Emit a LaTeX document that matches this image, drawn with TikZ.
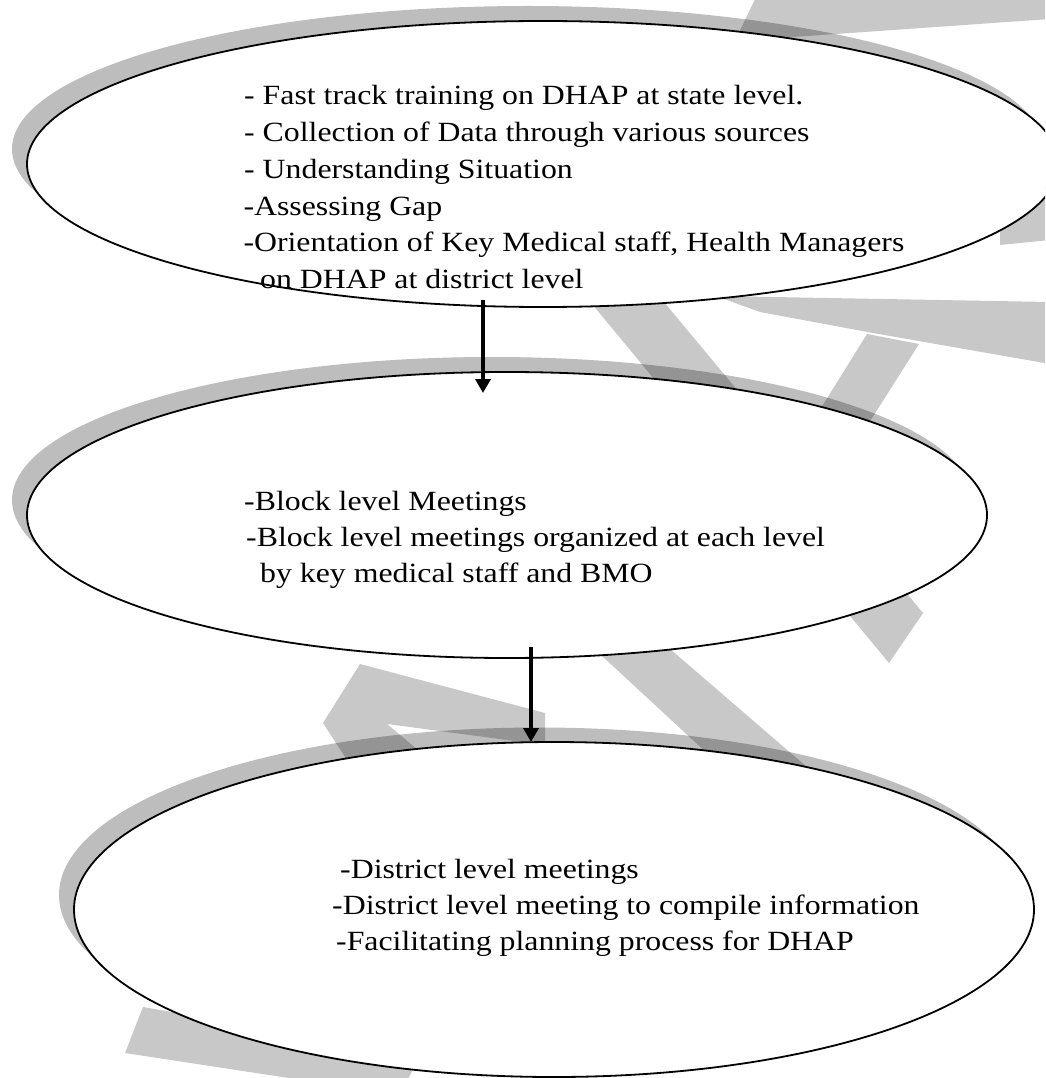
\documentclass[tikz,border=0pt]{standalone}
\usepackage{fontspec}
\setmainfont{Liberation Serif}[FakeStretch=1.144]
\usetikzlibrary{shapes.geometric,arrows.meta}
\definecolor{wmgray}{RGB}{200,200,200}
\begin{document}
\begin{tikzpicture}[x=1pt,y=-1pt,
  wm/.style={fill=wmgray,draw=none},
  shade/.style={ellipse,fill=black,fill opacity=0.26,draw=none,inner sep=0pt,outer sep=0pt},
  bubble/.style={ellipse,draw=black,line width=1.8pt,fill=white,inner sep=0pt},
  txt/.style={anchor=base west,inner sep=0pt,font=\fontsize{27.8pt}{36.8pt}\selectfont},
  flow/.style={line width=4.5pt,-{Triangle[width=15pt,length=14pt]}}]
\useasboundingbox (0,0) rectangle (1045,1078);
\fill[white] (0,0) rectangle (1045,1078);
\begin{scope}
\clip (0,0) rectangle (1045,1078);
% watermark
\fill[wm] (757,-5) -- (1050,-5) -- (1050,19) -- (850,33) -- (735,41) -- cycle;
\fill[wm] (716,296) -- (1050,302) -- (1050,364) -- (873,333) -- (760,312) -- cycle;
\fill[wm] (867,334) -- (919,344) -- (820,500) -- (770,490) -- cycle;
\fill[wm] (506,200) -- (579,200) -- (923,613) -- (889,663) -- cycle;
\fill[wm] (520,580) -- (590,580) -- (880,830) -- (790,830) -- cycle;
\fill[wm] (360,664) -- (545,713) -- (545,745) -- (387,724) -- (430,760) -- (360,780) -- (323,723) -- cycle;
\fill[wm] (143,1007) -- (420,1055) -- (400,1095) -- (125,1053) -- cycle;
\fill[wm] (1000,195) -- (1050,185) -- (1050,240) -- (1000,245) -- cycle;
% shadows
\node[shade,minimum width=1032pt,minimum height=286pt] (s1) at (528,149) {};
\node[shade,minimum width=960pt,minimum height=286pt] (s2) at (492,500) {};
\node[shade,minimum width=960pt,minimum height=335pt] (s3) at (539,895) {};
% ellipses
\node[bubble,minimum width=1032pt,minimum height=286pt] (e1) at (543,164) {};
\node[bubble,minimum width=960pt,minimum height=286pt] (e2) at (507,515) {};
\node[bubble,minimum width=960pt,minimum height=335pt] (e3) at (554,909.5) {};
\end{scope}
% texts
\node[txt] (t11) at (244,104.5) {- Fast track training on DHAP at state level.};
\node[txt] (t12) at (244,141.5) {- Collection of Data through various sources};
\node[txt] (t13) at (244,178.3) {- Understanding Situation};
\node[txt] (t14) at (243.3,215) {-Assessing Gap};
\node[txt] (t15) at (243.3,251.7) {-Orientation of Key Medical staff, Health Managers};
\node[txt] (t16) at (260,288.3) {on DHAP at district level};
\node[txt] (t21) at (244,510) {-Block level Meetings};
\node[txt] (t22) at (246,546) {-Block level meetings organized at each level};
\node[txt] (t23) at (260,582) {by key medical staff and BMO};
\node[txt] (t31) at (340,878) {-District level meetings};
\node[txt] (t32) at (332,914) {-District level meeting to compile information};
\node[txt] (t33) at (336,950) {-Facilitating planning process for DHAP};
% arrows
\coordinate (a1s) at (483,300);
\coordinate (a1e) at (483,393);
\coordinate (a2s) at (531,647);
\coordinate (a2e) at (531,742);
\draw[flow] (a1s) -- (a1e);
\draw[flow] (a2s) -- (a2e);
\end{tikzpicture}
\end{document}
